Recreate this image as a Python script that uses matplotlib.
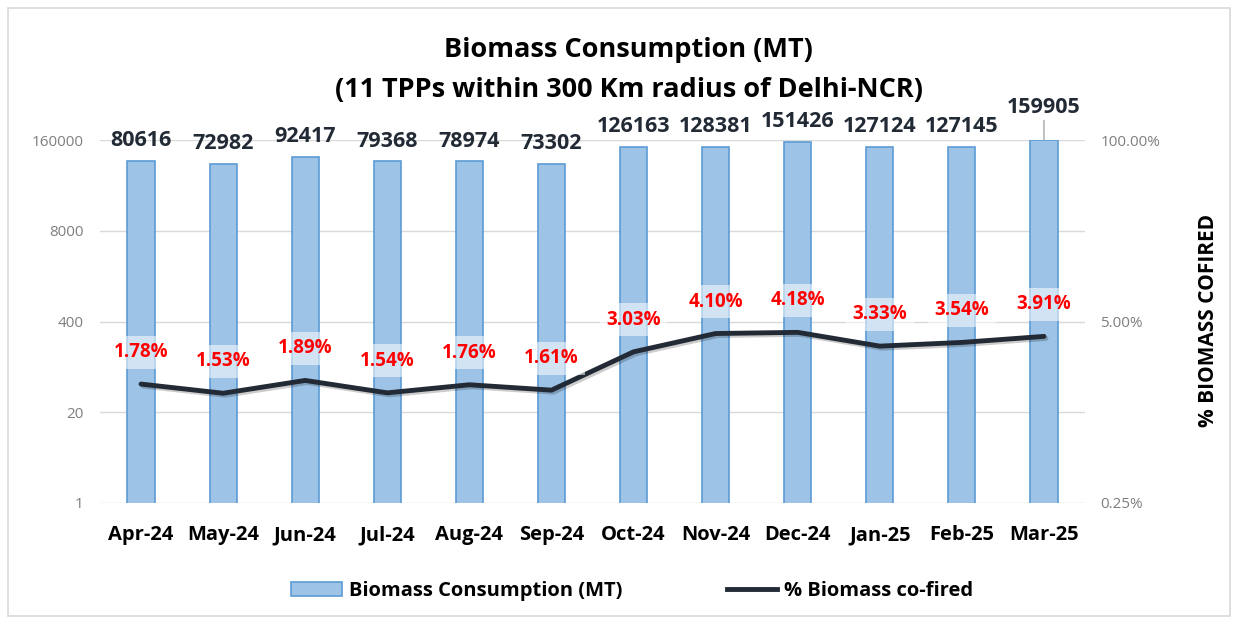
import matplotlib
matplotlib.use('Agg')
import matplotlib.pyplot as plt
from matplotlib.patches import Rectangle, Patch
from matplotlib.lines import Line2D
from matplotlib.ticker import FixedLocator, FixedFormatter
import matplotlib.patheffects as pe

plt.rcParams['font.family'] = ['Open Sans', 'DejaVu Sans']

# Datos
meses = ['Apr-24', 'May-24', 'Jun-24', 'Jul-24', 'Aug-24', 'Sep-24',
         'Oct-24', 'Nov-24', 'Dec-24', 'Jan-25', 'Feb-25', 'Mar-25']
consumo = [80616, 72982, 92417, 79368, 78974, 73302,
           126163, 128381, 151426, 127124, 127145, 159905]
cofired = [1.78, 1.53, 1.89, 1.54, 1.76, 1.61,
           3.03, 4.10, 4.18, 3.33, 3.54, 3.91]
ticks_izq = [1, 20, 400, 8000, 160000]
ticks_der = [0.25, 5, 100]

fig = plt.figure(figsize=(12.4, 6.22), dpi=100)
fig.patches.append(Rectangle((8/1240, 6/622), 1222/1240, 608/622, transform=fig.transFigure,
                             fill=False, edgecolor='#d9d9d9', lw=1.2))

ax = fig.add_axes([100/1240, 119/622, 985/1240, 363/622])
x = list(range(len(meses)))

ax.set_yscale('log', base=20)
ax.set_ylim(1, 160000)
ax.set_xlim(-0.5, len(meses) - 0.5)
ax.yaxis.set_major_locator(FixedLocator(ticks_izq))
ax.yaxis.set_major_formatter(FixedFormatter([str(t) for t in ticks_izq]))
ax.yaxis.set_minor_locator(FixedLocator([]))
ax.grid(axis='y', color='#d9d9d9', lw=1)
ax.set_axisbelow(True)
for s in ax.spines.values():
    s.set_visible(False)
ax.tick_params(axis='y', length=0, pad=12, labelsize=11, labelcolor='#7f7f7f')
ax.tick_params(axis='x', length=0, pad=16)
ax.set_xticks(x)
ax.set_xticklabels(meses, fontsize=14.5, fontweight='bold', color='black')

ax.bar(x, consumo, width=0.33, color='#9dc3e6', edgecolor='#5b9bd5', lw=1.2, zorder=2)

for i, v in enumerate(consumo):
    if i == len(consumo) - 1:
        ax.annotate(f'{v}', (i, v), xytext=(0, 16), textcoords='offset points',
                    ha='center', va='bottom', fontsize=15.5, fontweight='bold', color='#222a35',
                    arrowprops=dict(arrowstyle='-', color='#a6a6a6', lw=1, shrinkA=0, shrinkB=0))
    else:
        ax.annotate(f'{v}', (i, v), xytext=(0, 7), textcoords='offset points',
                    ha='center', va='bottom', fontsize=15.5, fontweight='bold', color='#222a35')

ax2 = ax.twinx()
ax2.set_yscale('log')
ax2.set_ylim(0.25, 100)
ax2.yaxis.set_major_locator(FixedLocator(ticks_der))
ax2.yaxis.set_major_formatter(FixedFormatter([f'{t:.2f}%' for t in ticks_der]))
ax2.yaxis.set_minor_locator(FixedLocator([]))
for s in ax2.spines.values():
    s.set_visible(False)
ax2.tick_params(axis='y', length=0, pad=11, labelsize=11, labelcolor='#7f7f7f')

ax2.plot(x, cofired, color='#222a35', lw=3.5, solid_capstyle='round', zorder=3,
         path_effects=[pe.SimpleLineShadow(offset=(1.5, -1.5), alpha=0.2), pe.Normal()])
for i, v in enumerate(cofired):
    ax2.annotate(f'{v:.2f}%', (i, v), xytext=(0, 23), textcoords='offset points',
                 ha='center', va='center', fontsize=13.5, fontweight='bold', color='#ff0000',
                 bbox=dict(boxstyle='square,pad=0.35', fc='white', ec='none', alpha=0.55))

fig.text(0.507, 1 - 50/622, 'Biomass Consumption (MT)', ha='center', va='center',
         fontsize=19.5, fontweight='bold')
fig.text(0.507, 1 - 90/622, '(11 TPPs within 300 Km radius of Delhi-NCR)', ha='center', va='center',
         fontsize=19.5, fontweight='bold')
fig.text(1208/1240, 1 - 320/622, '% BIOMASS COFIRED', rotation=90, ha='center', va='center',
         fontsize=15, fontweight='bold')

handles = [Patch(facecolor='#9dc3e6', edgecolor='#5b9bd5', lw=1.2),
           Line2D([0], [0], color='#222a35', lw=3.5)]
fig.legend(handles, ['Biomass Consumption (MT)', '% Biomass co-fired'], loc='center',
           bbox_to_anchor=(0.51, 1 - 591/622), ncol=2, frameon=False,
           prop={'weight': 'bold', 'size': 14.5}, handlelength=2.5, columnspacing=5.2,
           handletextpad=0.35)

fig.savefig('out.png', dpi=100)
